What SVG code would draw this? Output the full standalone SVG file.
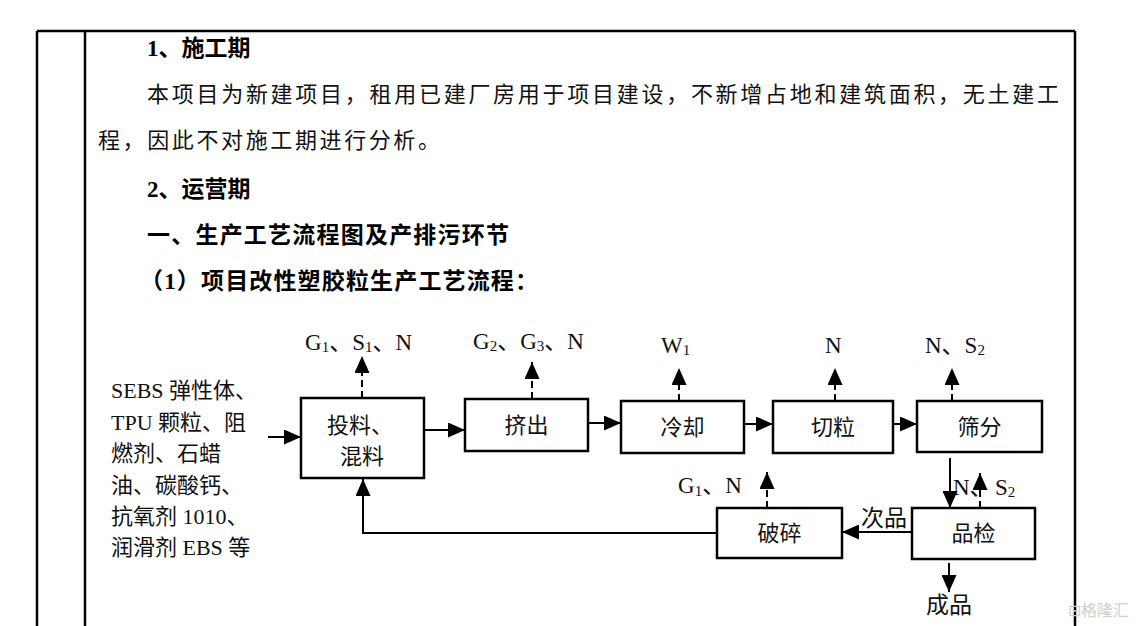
<svg xmlns="http://www.w3.org/2000/svg" width="1148" height="626" viewBox="0 0 1148 626">
<defs>
<style>
.frame{stroke:#000;stroke-width:2.5;fill:none}
.box{fill:#fff;stroke:#000;stroke-width:2.5}
.ln{stroke:#000;stroke-width:2;fill:none}
.dash{stroke:#000;stroke-width:2;fill:none;stroke-dasharray:7 4}
.hb{font-family:"Liberation Serif","Noto Sans CJK SC",serif;font-weight:bold;font-size:23px;fill:#000}
.body{font-family:"Liberation Serif","Noto Sans CJK SC",serif;font-size:22px;fill:#111}
.t{font-family:"Liberation Serif","Noto Sans CJK SC",serif;font-size:22px;fill:#111}
.lbl{font-family:"Liberation Serif","Noto Sans CJK SC",serif;font-size:23px;fill:#111}
.sub{font-size:15px}
</style>
<marker id="ah" markerUnits="userSpaceOnUse" markerWidth="17" markerHeight="15" refX="17" refY="7.5" orient="auto">
<path d="M0,0 L17,7.5 L0,15 z" fill="#000"/>
</marker>
</defs>
<rect width="1148" height="626" fill="#fff"/>
<g id="frame">
<line class="frame" x1="37" y1="31" x2="1075" y2="31"/>
<line class="frame" x1="37" y1="31" x2="37" y2="626"/>
<line class="frame" x1="85" y1="31" x2="85" y2="626"/>
<line class="frame" x1="1075" y1="31" x2="1075" y2="626"/>
</g>
<g id="header">
<text class="hb" x="147" y="56">1、施工期</text>
<text class="body" x="147" y="102" textLength="912" lengthAdjust="spacing">本项目为新建项目，租用已建厂房用于项目建设，不新增占地和建筑面积，无土建工</text>
<text class="body" x="98" y="148" textLength="342" lengthAdjust="spacing">程，因此不对施工期进行分析。</text>
<text class="hb" x="147" y="197">2、运营期</text>
<text class="hb" x="147" y="243" textLength="362" lengthAdjust="spacing">一、生产工艺流程图及产排污环节</text>
<text class="hb" x="140" y="289" textLength="398" lengthAdjust="spacing">（1）项目改性塑胶粒生产工艺流程：</text>
</g>
<g id="input">
<text class="t" x="111" y="398">SEBS 弹性体、</text>
<text class="t" x="111" y="430">TPU 颗粒、阻</text>
<text class="t" x="111" y="461">燃剂、石蜡</text>
<text class="t" x="111" y="493">油、碳酸钙、</text>
<text class="t" x="111" y="524">抗氧剂 1010、</text>
<text class="t" x="111" y="555">润滑剂 EBS 等</text>
</g>
<g id="n-mix">
<rect class="box" x="301" y="398" width="123" height="80"/>
<text class="t" x="327" y="433">投料、</text>
<text class="t" x="340" y="464">混料</text>
</g>
<g id="n-extrude">
<rect class="box" x="465" y="399" width="123" height="52"/>
<text class="t" x="526.5" y="433" text-anchor="middle">挤出</text>
</g>
<g id="n-cool">
<rect class="box" x="621" y="401" width="123" height="52"/>
<text class="t" x="682.5" y="435" text-anchor="middle">冷却</text>
</g>
<g id="n-cut">
<rect class="box" x="773" y="401" width="120" height="52"/>
<text class="t" x="833" y="435" text-anchor="middle">切粒</text>
</g>
<g id="n-sieve">
<rect class="box" x="917" y="401" width="125" height="51"/>
<text class="t" x="979.5" y="435" text-anchor="middle">筛分</text>
</g>
<g id="n-inspect">
<rect class="box" x="912" y="508" width="123" height="51"/>
<text class="t" x="973.5" y="541" text-anchor="middle">品检</text>
</g>
<g id="n-crush">
<rect class="box" x="717" y="508" width="125" height="50"/>
<text class="t" x="779.5" y="541" text-anchor="middle">破碎</text>
</g>
<g id="connectors">
<line class="ln" x1="268" y1="437" x2="301" y2="437" marker-end="url(#ah)"/>
<line class="ln" x1="424" y1="430" x2="465" y2="430" marker-end="url(#ah)"/>
<line class="ln" x1="588" y1="423" x2="621" y2="423" marker-end="url(#ah)"/>
<line class="ln" x1="744" y1="424" x2="773" y2="424" marker-end="url(#ah)"/>
<line class="ln" x1="893" y1="424" x2="917" y2="424" marker-end="url(#ah)"/>
<line class="dash" x1="362" y1="398" x2="362" y2="356" marker-end="url(#ah)"/>
<line class="dash" x1="532" y1="399" x2="532" y2="362" marker-end="url(#ah)"/>
<line class="dash" x1="679" y1="401" x2="679" y2="368" marker-end="url(#ah)"/>
<line class="dash" x1="835" y1="401" x2="835" y2="368" marker-end="url(#ah)"/>
<line class="dash" x1="952" y1="401" x2="952" y2="368" marker-end="url(#ah)"/>
<line class="ln" x1="950" y1="458" x2="950" y2="508" marker-end="url(#ah)"/>
<line class="dash" x1="980" y1="508" x2="980" y2="473" marker-end="url(#ah)"/>
<line class="ln" x1="949" y1="563" x2="949" y2="592" marker-end="url(#ah)"/>
<line class="ln" x1="912" y1="532" x2="842" y2="532" marker-end="url(#ah)"/>
<line class="dash" x1="767" y1="508" x2="767" y2="472" marker-end="url(#ah)"/>
<path class="ln" d="M717,533 H363 V479" marker-end="url(#ah)"/>
</g>
<g id="labels">
<text class="lbl" x="305" y="350">G<tspan class="sub" dy="2">1</tspan><tspan dy="-2">、S</tspan><tspan class="sub" dy="2">1</tspan><tspan dy="-2">、N</tspan></text>
<text class="lbl" x="473" y="349">G<tspan class="sub" dy="2">2</tspan><tspan dy="-2">、G</tspan><tspan class="sub" dy="2">3</tspan><tspan dy="-2">、N</tspan></text>
<text class="lbl" x="661" y="353">W<tspan class="sub" dy="2">1</tspan></text>
<text class="lbl" x="825" y="353">N</text>
<text class="lbl" x="925" y="353">N、S<tspan class="sub" dy="2">2</tspan></text>
<text class="lbl" x="678" y="493">G<tspan class="sub" dy="3">1</tspan><tspan dy="-3">、N</tspan></text>
<text class="lbl" x="953" y="495">N、</text>
<text class="lbl" x="995" y="495">S<tspan class="sub" dy="2">2</tspan></text>
<text class="lbl" x="861" y="526">次品</text>
<text class="lbl" x="926" y="613">成品</text>
</g>
<text x="1068" y="616" font-family="Noto Sans CJK SC,sans-serif" font-size="16" fill="#cfcfcf">⊡格隆汇</text>
</svg>
